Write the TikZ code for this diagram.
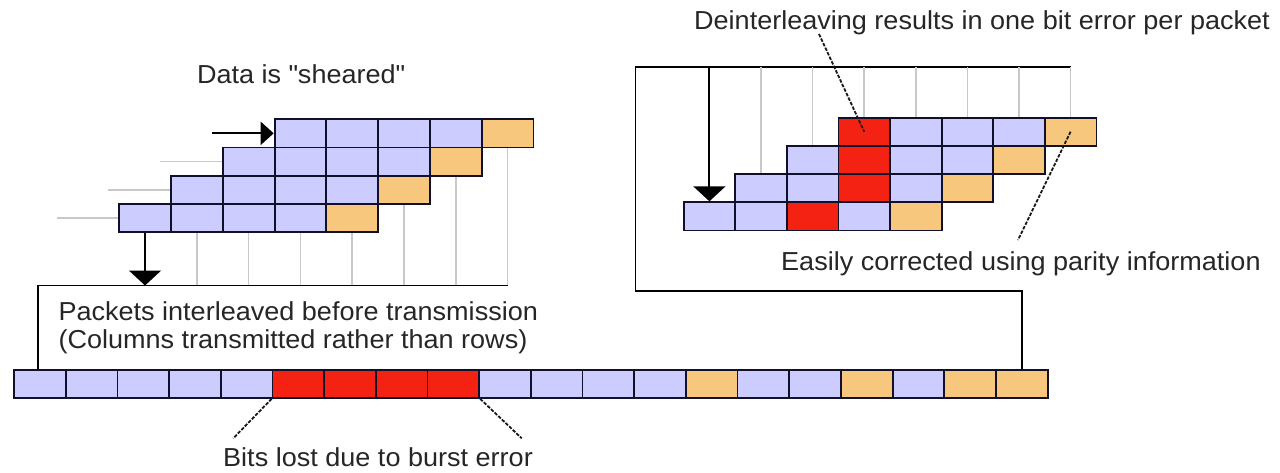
\documentclass[tikz,border=0pt]{standalone}
\usepackage{fontspec}
\setmainfont{Liberation Sans}[FakeStretch=1.04]
\usetikzlibrary{arrows.meta}
\definecolor{cellblue}{HTML}{CCCCFF}
\definecolor{cellorange}{HTML}{F6C77C}
\definecolor{cellred}{HTML}{F42212}
\definecolor{guide}{HTML}{C8C8C8}
\definecolor{edge}{HTML}{10102A}

\begin{document}
\begin{tikzpicture}[x=1pt,y=-1pt,
  cell/.style={draw=edge, line width=1.8pt, minimum width=51.7pt,
    minimum height=28.25pt, inner sep=0pt, anchor=north west},
  blue/.style={cell, fill=cellblue},
  orange/.style={cell, fill=cellorange},
  red/.style={cell, fill=cellred},
  guideline/.style={draw=guide, line width=1.6pt},
  bracket/.style={draw=black, line width=1.7pt},
  feed/.style={draw=black, line width=2pt, -{Triangle[length=15pt,width=32pt]}},
  feedside/.style={draw=black, line width=2pt, -{Triangle[length=13pt,width=23pt]}},
  leader/.style={draw=black!90, line width=1.8pt, dash pattern=on 3.5pt off 1.5pt},
  label/.style={font=\fontsize{26}{31}\selectfont, inner sep=0pt, text=black!85}]

\fill[white] (0,0) rectangle (1280,472);
\useasboundingbox (0,0) rectangle (1280,472);

% ---- sheared packets (left) ----
\foreach \r in {1,...,4} {
  \foreach \j in {0,...,4} {
    \pgfmathtruncatemacro{\c}{4-\r+\j}
    \ifnum\j=4 \def\sty{orange}\else\def\sty{blue}\fi
    \node[\sty] (L-\r-\c) at ({118.3+51.8*\c},{118.3+28.25*(\r-1)}) {};
  }
}

% ---- deinterleaved packets (right) ----
\foreach \r in {1,...,4} {
  \foreach \j in {0,...,4} {
    \pgfmathtruncatemacro{\c}{4-\r+\j}
    \def\sty{blue}
    \ifnum\j=4 \def\sty{orange}\fi
    \ifnum\c=3 \ifnum\r<4 \def\sty{red}\fi\fi
    \ifnum\c=2 \ifnum\r=4 \def\sty{red}\fi\fi
    \node[\sty, minimum width=51.6pt, minimum height=28.2pt]
      (R-\r-\c) at ({682.7+51.6*\c},{116.7+28.2*(\r-1)}) {};
  }
}

% ---- transmitted stream ----
\foreach \k/\sty in {0/blue,1/blue,2/blue,3/blue,4/blue,5/red,6/red,7/red,8/red,
                     9/blue,10/blue,11/blue,12/blue,13/orange,14/blue,15/blue,
                     16/orange,17/blue,18/orange,19/orange} {
  \node[\sty, minimum width=51.67pt, minimum height=28pt]
    (B-\k) at ({13.3+51.67*\k},369) {};
}

% ---- left: rows fed in, columns read out ----
\coordinate (inL1) at (211.7,0);
\draw[feedside] (inL1 |- L-1-3.west) -- (L-1-3.west);
\draw[guideline] (160,0 |- L-2-2.west) -- (L-2-2.west);
\draw[guideline] (108.3,0 |- L-3-1.west) -- (L-3-1.west);
\draw[guideline] (57,0 |- L-4-0.west) -- (L-4-0.west);

\coordinate (busL) at (0,285.5);
\foreach \c/\r in {1/4,2/4,3/4,4/4,5/3,6/2,7/1}
  \draw[guideline] (L-\r-\c.south) -- (L-\r-\c.south |- busL);
\draw[feed] (L-4-0.south) -- (L-4-0.south |- busL);
\coordinate (busLa) at (37.7,285.5);
\draw[bracket] (busLa |- B-0.north) -- (busLa) -- (L-1-7.south |- busL);

% ---- right: stream written back into packets ----
\coordinate (busR) at (0,67.3);
\coordinate (busRa) at (635.5,67.3);
\coordinate (busRb) at (635.5,290.7);
\draw[bracket] (B-19.north) -- (B-19.north |- busRb) -- (busRb) -- (busRa)
  -- (R-1-7.north |- busR);
\foreach \c/\r in {1/3,2/2,3/1,4/1,5/1,6/1,7/1}
  \draw[guideline] (R-\r-\c.north |- busR) -- (R-\r-\c.north);
\draw[feed] (R-4-0.north |- busR) -- (R-4-0.north);

% ---- labels ----
\node[label, anchor=base] (tShear) at (301,83) {Data is \textquotedbl sheared\textquotedbl};
\node[label, anchor=base east] (tDeint) at (1270,29)
  {Deinterleaving results in one bit error per packet};
\node[label, anchor=base west] (tParity) at (781,270.7)
  {Easily corrected using parity information};
\node[label, anchor=base west] (tPack1) at (58.3,320.7)
  {Packets interleaved before transmission};
\node[label, anchor=base west] (tPack2) at (58.3,348.3)
  {(Columns transmitted rather than rows)};
\node[label, anchor=base] (tBurst) at (378,466) {Bits lost due to burst error};

% ---- leaders ----
\coordinate (dStart) at (819,34);
\draw[leader] (dStart) -- (R-1-3.center);
\coordinate (pEnd) at (1018,240);
\draw[leader] (R-1-7.center) -- (pEnd);
\coordinate (bEndL) at (233.3,438.3);
\coordinate (bEndR) at (521.7,438.3);
\draw[leader] (B-5.south west) -- (bEndL);
\draw[leader] (B-8.south east) -- (bEndR);
\end{tikzpicture}
\end{document}
